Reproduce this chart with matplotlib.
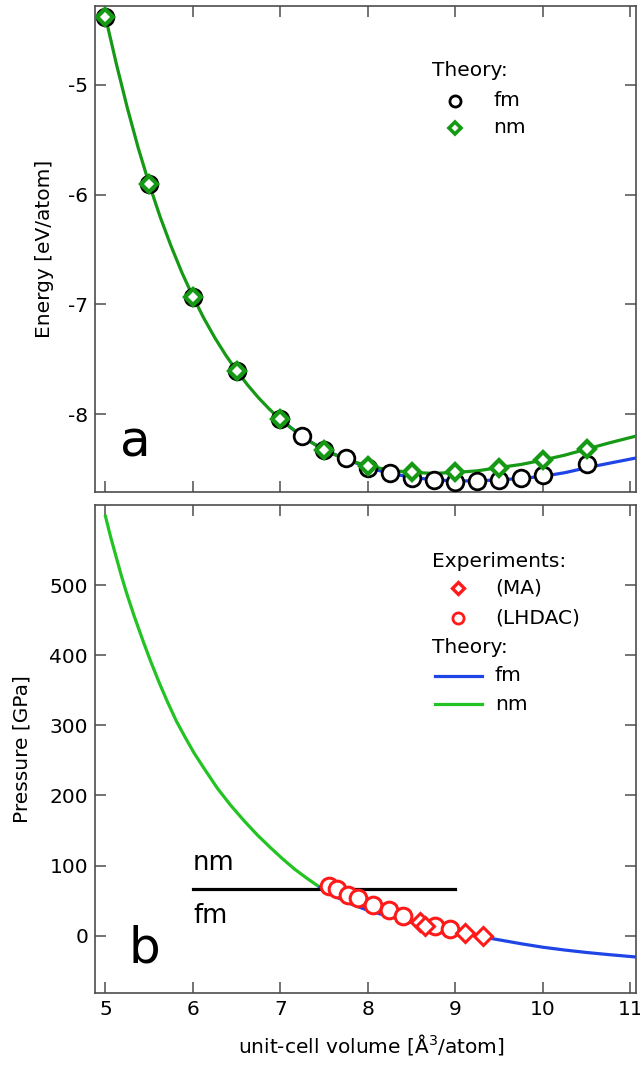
import matplotlib
matplotlib.use("Agg")
import matplotlib.pyplot as plt

plt.rcParams['font.family'] = ['DejaVu Sans']
plt.rcParams['mathtext.fontset'] = 'dejavusans'

# --- panel a: energy vs volume (theory) ---
v_fm = [5.0, 5.5, 6.0, 6.5, 7.0, 7.25, 7.5, 7.75, 8.0, 8.25, 8.5, 8.75, 9.0, 9.25, 9.5, 9.75, 10.0, 10.5]
e_fm = [-4.38, -5.905, -6.93, -7.607, -8.05, -8.20, -8.33, -8.403, -8.494, -8.54, -8.585, -8.606,
        -8.616, -8.61, -8.60, -8.585, -8.556, -8.458]

v_nm = [5.0, 5.5, 6.0, 6.5, 7.0, 7.5, 8.0, 8.5, 9.0, 9.5, 10.0, 10.5]
e_nm = [-4.38, -5.905, -6.93, -7.607, -8.05, -8.33, -8.473, -8.533, -8.533, -8.488, -8.42, -8.32]

# fitted curves
v_fit_nm = [5.0, 5.125, 5.25, 5.375, 5.5, 5.625, 5.75, 5.875, 6.0, 6.125, 6.25, 6.375, 6.5,
            6.625, 6.75, 6.875, 7.0, 7.25, 7.5, 7.75, 8.0, 8.25, 8.5, 8.75, 9.0, 9.25, 9.5,
            9.75, 10.0, 10.25, 10.5, 10.75, 11.07]
e_fit_nm = [-4.38, -4.81, -5.21, -5.576, -5.905, -6.203, -6.47, -6.713, -6.93, -7.128, -7.305,
            -7.464, -7.607, -7.736, -7.853, -7.957, -8.05, -8.207, -8.33, -8.415, -8.473,
            -8.512, -8.533, -8.541, -8.533, -8.518, -8.488, -8.46, -8.42, -8.375, -8.32,
            -8.265, -8.2]

v_fit_fm = [7.0, 7.25, 7.5, 7.75, 8.0, 8.25, 8.5, 8.75, 9.0, 9.25, 9.5, 9.75, 10.0, 10.25,
            10.5, 10.75, 11.07]
e_fit_fm = [-8.05, -8.207, -8.33, -8.41, -8.49, -8.54, -8.578, -8.60, -8.61, -8.61, -8.60,
            -8.588, -8.568, -8.535, -8.49, -8.45, -8.40]

# --- panel b: pressure vs volume ---
v_p_nm = [5.0, 5.06, 5.12, 5.18, 5.24, 5.33, 5.43, 5.52, 5.62, 5.71, 5.81, 5.91, 6.01, 6.14,
          6.28, 6.43, 6.59, 6.74, 6.89, 7.02, 7.16, 7.3, 7.45]
p_nm = [598, 568, 541, 514, 489, 455, 420, 390, 359, 333, 306, 283, 261, 236,
        210, 186, 163, 143, 125, 110, 95, 82, 69]

v_p_fm = [7.45, 7.6, 7.8, 8.0, 8.25, 8.5, 8.75, 9.0, 9.25, 9.5, 9.75, 10.0, 10.25, 10.5, 10.75, 11.07]
p_fm = [69, 57.5, 45.5, 36, 27, 19, 12, 5.5, -0.5, -6, -11.5, -16.5, -20.5, -24, -27, -30.5]

v_ma = [8.59, 8.65, 9.11, 9.31]
p_ma = [20, 14, 4.3, -1]
v_lhdac = [7.55, 7.65, 7.77, 7.89, 8.06, 8.24, 8.40, 8.77, 8.94]
p_lhdac = [71, 66, 58, 53, 44, 37, 28, 14, 9]

v_transition = [6.0, 9.0]
p_transition = [67, 67]

green_dark = '#169a16'
green_light = '#22c322'
blue = '#1f45e6'
red = '#ff1a1a'
spine_col = '#4d4d4d'
fs = 14.5

fig = plt.figure(figsize=(6.4, 10.7), dpi=100)
ax_e = fig.add_axes([0.1484, 0.5402, 0.8453, 0.4542])
ax_p = fig.add_axes([0.1484, 0.0720, 0.8453, 0.4561])

for ax in (ax_e, ax_p):
    ax.set_xlim(4.88, 11.063)
    ax.set_xticks([5, 6, 7, 8, 9, 10, 11])
    ax.tick_params(direction='in', length=8, width=1.1, color=spine_col,
                   top=True, right=True, labelsize=fs, pad=5)
    for sp in ax.spines.values():
        sp.set_color(spine_col)
        sp.set_linewidth(1.2)

# panel a
ax_e.plot(v_fit_fm, e_fit_fm, color=blue, lw=2.3, zorder=2)
ax_e.plot(v_fit_nm, e_fit_nm, color=green_dark, lw=2.3, zorder=3)
ax_e.plot(v_fm, e_fm, 'o', ms=12, mfc='white', mec='black', mew=2, zorder=4)
ax_e.plot(v_nm, e_nm, 'D', ms=8.5, mfc='white', mec=green_dark, mew=3, zorder=5)
ax_e.set_ylim(-8.711, -4.28)
ax_e.set_yticks([-8, -7, -6, -5])
ax_e.set_yticklabels(['-8', '-7', '-6', '-5'])
ax_e.tick_params(axis='x', labelbottom=False)
ax_e.set_ylabel('Energy [eV/atom]', fontsize=fs)
ax_e.yaxis.set_label_coords(-0.075, 0.5)
ax_e.text(0.046, 0.072, 'a', transform=ax_e.transAxes, fontsize=36)

# legend a
tr = ax_e.transAxes
ax_e.text(0.623, 0.868, 'Theory:', transform=tr, fontsize=fs, va='center')
ax_e.plot([0.665], [0.805], 'o', ms=8, mfc='white', mec='black', mew=2, transform=tr)
ax_e.text(0.736, 0.805, 'fm', transform=tr, fontsize=fs, va='center')
ax_e.plot([0.665], [0.749], 'D', ms=6.5, mfc='white', mec=green_dark, mew=2.6, transform=tr)
ax_e.text(0.736, 0.749, 'nm', transform=tr, fontsize=fs, va='center')

# panel b
ax_p.plot(v_p_nm, p_nm, color=green_light, lw=2.3, zorder=2)
ax_p.plot(v_p_fm, p_fm, color=blue, lw=2.3, zorder=2)
ax_p.plot(v_transition, p_transition, color='black', lw=2.3, zorder=3)
ax_p.plot(v_lhdac, p_lhdac, 'o', ms=12, mfc='white', mec=red, mew=2.2, zorder=4)
ax_p.plot(v_ma, p_ma, 'D', ms=9, mfc='white', mec=red, mew=2.2, zorder=5)
ax_p.set_ylim(-81.7, 614.2)
ax_p.set_yticks([0, 100, 200, 300, 400, 500])
ax_p.set_ylabel('Pressure [GPa]', fontsize=fs)
ax_p.yaxis.set_label_coords(-0.118, 0.5)
ax_p.set_xlabel('unit-cell volume [Å$^{3}$/atom]', fontsize=fs)
ax_p.xaxis.set_label_coords(0.51, -0.08)
ax_p.text(0.062, 0.0615, 'b', transform=ax_p.transAxes, fontsize=36)
ax_p.text(6.0, 93.7, 'nm', fontsize=18.5)
ax_p.text(6.0, 18.5, 'fm', fontsize=18.5)

# legend b
tr = ax_p.transAxes
ax_p.text(0.623, 0.885, 'Experiments:', transform=tr, fontsize=fs, va='center')
ax_p.plot([0.671], [0.830], 'D', ms=6.5, mfc='white', mec=red, mew=2.4, transform=tr)
ax_p.text(0.739, 0.830, '(MA)', transform=tr, fontsize=fs, va='center')
ax_p.plot([0.671], [0.768], 'o', ms=8, mfc='white', mec=red, mew=2, transform=tr)
ax_p.text(0.739, 0.768, '(LHDAC)', transform=tr, fontsize=fs, va='center')
ax_p.text(0.623, 0.707, 'Theory:', transform=tr, fontsize=fs, va='center')
ax_p.plot([0.629, 0.715], [0.650, 0.650], color=blue, lw=2.3, transform=tr)
ax_p.text(0.739, 0.650, 'fm', transform=tr, fontsize=fs, va='center')
ax_p.plot([0.629, 0.715], [0.592, 0.592], color=green_light, lw=2.3, transform=tr)
ax_p.text(0.739, 0.592, 'nm', transform=tr, fontsize=fs, va='center')

fig.savefig('out.png', dpi=100)
